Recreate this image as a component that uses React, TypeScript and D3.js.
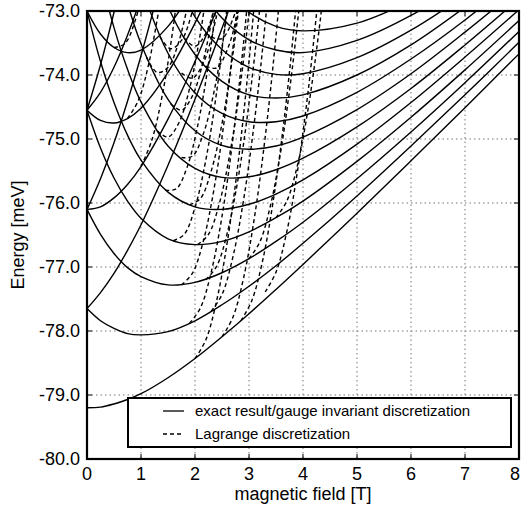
import React from "react";
import * as d3 from "d3";

// magnetic field sample positions [T]
const FIELD_T = [0, 0.25, 0.5, 0.75, 1, 1.5, 2, 2.5, 3, 3.5, 4, 5, 6, 7, 8];

// exact / gauge invariant levels [meV], read at FIELD_T
const E_N0_M0 = [-79.2, -79.19, -79.14, -79.07, -78.98, -78.73, -78.43, -78.09, -77.73, -77.35, -76.96, -76.16, -75.34, -74.51, -73.67];
const E_N0_M1 = [-77.65, -77.84, -77.96, -78.04, -78.06, -78.01, -77.84, -77.59, -77.3, -76.98, -76.63, -75.89, -75.11, -74.31, -73.49];
const E_N0_M2 = [-76.1, -76.49, -76.79, -77.01, -77.15, -77.28, -77.24, -77.09, -76.87, -76.6, -76.3, -75.62, -74.89, -74.12, -73.32];
const E_N0_M3 = [-74.55, -75.14, -75.61, -75.97, -76.24, -76.56, -76.65, -76.6, -76.45, -76.23, -75.97, -75.35, -74.66, -73.92, -73.15];
const E_N0_M4 = [-73.0, -73.79, -74.43, -74.94, -75.33, -75.83, -76.06, -76.1, -76.02, -75.86, -75.64, -75.08, -74.43, -73.72, -72.98];
const E_N0_M5 = [-71.45, -72.44, -73.26, -73.91, -74.42, -75.11, -75.46, -75.6, -75.59, -75.48, -75.3, -74.81, -74.21, -73.53, -72.81];
const E_N0_M6 = [-69.9, -71.09, -72.08, -72.88, -73.51, -74.38, -74.87, -75.1, -75.16, -75.11, -74.97, -74.54, -73.98, -73.33, -72.64];
const E_N0_M7 = [-68.35, -69.74, -70.9, -71.85, -72.6, -73.66, -74.28, -74.6, -74.73, -74.73, -74.64, -74.27, -73.75, -73.14, -72.46];
const E_N0_M8 = [-66.8, -68.39, -69.72, -70.81, -71.69, -72.93, -73.68, -74.1, -74.31, -74.36, -74.31, -74.0, -73.53, -72.94, -72.29];
const E_N0_M9 = [-65.25, -67.04, -68.55, -69.78, -70.78, -72.21, -73.09, -73.6, -73.88, -73.99, -73.98, -73.73, -73.3, -72.75, -72.12];
const E_N0_M10 = [-63.7, -65.7, -67.37, -68.75, -69.87, -71.49, -72.5, -73.11, -73.45, -73.61, -73.65, -73.46, -73.07, -72.55, -71.95];
const E_N0_M11 = [-62.15, -64.35, -66.19, -67.72, -68.96, -70.76, -71.9, -72.61, -73.02, -73.24, -73.31, -73.19, -72.84, -72.36, -71.78];
const E_N0_MM1 = [-77.65, -77.4, -77.1, -76.74, -76.34, -75.41, -74.38, -73.27, -72.12];
const E_N0_MM2 = [-76.1, -75.62, -75.06, -74.41, -73.7, -72.1, -70.33];
const E_N0_MM3 = [-74.55, -73.84, -73.02, -72.09, -71.06];
const E_N0_MM4 = [-73.0, -72.06, -70.98];
const E_N1_M0 = [-76.1, -76.06, -75.92, -75.71, -75.43, -74.69, -73.79, -72.77, -71.69];
const E_N1_M1 = [-74.55, -74.71, -74.75, -74.68, -74.52, -73.96, -73.19, -72.28, -71.26];
const E_N1_M2 = [-73.0, -73.36, -73.57, -73.65, -73.61, -73.24, -72.6, -71.78];
const E_N1_MM1 = [-74.55, -74.27, -73.88, -73.38, -72.79, -71.37];
const E_N1_MM2 = [-73.0, -72.49, -71.84];

const EXACT_LEVELS = [
  E_N0_M0, E_N0_M1, E_N0_M2, E_N0_M3, E_N0_M4, E_N0_M5, E_N0_M6, E_N0_M7, E_N0_M8,
  E_N0_M9, E_N0_M10, E_N0_M11, E_N0_MM1, E_N0_MM2, E_N0_MM3, E_N0_MM4,
  E_N1_M0, E_N1_M1, E_N1_M2, E_N1_MM1, E_N1_MM2,
];

// Lagrange discretization branches: [B, E]
const LAG_1 = [[2.0, -78.43], [2.2, -78.14], [2.4, -77.53], [2.6, -76.6], [2.8, -75.36], [3.0, -73.79], [3.2, -71.9]];
const LAG_2 = [[2.5, -78.09], [2.7, -77.79], [2.9, -77.17], [3.1, -76.23], [3.3, -74.97], [3.5, -73.39], [3.7, -71.49]];
const LAG_3 = [[2.85, -77.84], [3.05, -77.53], [3.25, -76.91], [3.45, -75.96], [3.65, -74.7], [3.85, -73.11], [4.05, -71.2]];
const LAG_4 = [[1.9, -77.88], [2.1, -77.64], [2.3, -77.08], [2.5, -76.21], [2.7, -75.01], [2.9, -73.49], [3.1, -71.65]];
const LAG_5 = [[2.3, -77.69], [2.5, -77.43], [2.7, -76.85], [2.9, -75.95], [3.1, -74.73], [3.3, -73.19], [3.5, -71.33]];
const LAG_6 = [[1.75, -77.28], [1.95, -77.1], [2.15, -76.61], [2.35, -75.79], [2.55, -74.66], [2.75, -73.2], [2.95, -71.42]];
const LAG_7 = [[2.2, -77.2], [2.4, -76.99], [2.6, -76.46], [2.8, -75.61], [3.0, -74.44], [3.2, -72.95], [3.4, -71.14]];
const LAG_8 = [[1.6, -76.59], [1.8, -76.49], [2.0, -76.07], [2.2, -75.33], [2.4, -74.27], [2.6, -72.89]];
const LAG_9 = [[2.05, -76.65], [2.25, -76.49], [2.45, -76.01], [2.65, -75.21], [2.85, -74.09], [3.05, -72.65]];
const LAG_10 = [[1.45, -75.8], [1.65, -75.78], [1.85, -75.45], [2.05, -74.79], [2.25, -73.82], [2.45, -72.52]];
const LAG_11 = [[1.9, -76.03], [2.1, -75.93], [2.3, -75.5], [2.5, -74.76], [2.7, -73.69], [2.9, -72.31]];
const LAG_12 = [[1.3, -74.87], [1.5, -74.97], [1.7, -74.75], [1.9, -74.21], [2.1, -73.35], [2.3, -72.17]];
const LAG_13 = [[1.75, -75.29], [1.95, -75.27], [2.15, -74.93], [2.35, -74.27], [2.55, -73.29], [2.75, -71.99]];
const LAG_14 = [[1.1, -73.72], [1.3, -73.96], [1.5, -73.88], [1.7, -73.48], [1.9, -72.76]];
const LAG_15 = [[1.55, -74.45], [1.75, -74.55], [1.95, -74.33], [2.15, -73.79], [2.35, -72.93], [2.55, -71.75]];
const LAG_16 = [[1.35, -73.4], [1.55, -73.59], [1.75, -73.46], [1.95, -73.01], [2.15, -72.25]];
const LAG_17 = [[1.75, -73.97], [1.95, -74.05], [2.15, -73.82], [2.35, -73.26], [2.55, -72.39]];
const LAG_18 = [[1.8, -73.42], [2.0, -73.55], [2.2, -73.35], [2.4, -72.84]];
const LAG_19 = [[2.2, -73.86], [2.4, -73.89], [2.6, -73.6], [2.8, -72.99], [3.0, -72.06]];
const LAG_20 = [[2.3, -73.41], [2.5, -73.43], [2.7, -73.13], [2.9, -72.51]];
const LAG_21 = [[0.75, -74.68], [0.95, -74.4], [1.15, -73.8], [1.35, -72.88]];
const LAG_22 = [[0.5, -73.57], [0.7, -73.51], [0.9, -73.13], [1.1, -72.45]];
const LAG_23 = [[1.0, -75.43], [1.2, -75.02], [1.4, -74.29], [1.6, -73.23], [1.8, -71.85]];
const LAG_24 = [[3.3, -77.39], [3.5, -77.08], [3.7, -76.45], [3.9, -75.49], [4.1, -74.22], [4.3, -72.63]];
const LAG_25 = [[3.0, -76.87], [3.2, -76.61], [3.4, -76.03], [3.6, -75.13], [3.8, -73.91], [4.0, -72.37]];
const LAG_26 = [[3.5, -76.23], [3.7, -75.97], [3.9, -75.4], [4.1, -74.5], [4.3, -73.28], [4.5, -71.75]];

const LAGRANGE_LEVELS = [
  LAG_1, LAG_2, LAG_3, LAG_4, LAG_5, LAG_6, LAG_7, LAG_8, LAG_9, LAG_10, LAG_11, LAG_12, LAG_13,
  LAG_14, LAG_15, LAG_16, LAG_17, LAG_18, LAG_19, LAG_20, LAG_21, LAG_22, LAG_23, LAG_24, LAG_25, LAG_26,
];

const X_TICKS = [0, 1, 2, 3, 4, 5, 6, 7, 8];
const Y_TICKS = [-80, -79, -78, -77, -76, -75, -74, -73];
const X_LABEL = "magnetic field [T]";
const Y_LABEL = "Energy [meV]";
const LEGEND_LABELS = ["exact result/gauge invariant discretization", "Lagrange discretization"];

const FONT = "'Liberation Sans', Arial, Helvetica, sans-serif";

export default function App() {
  const width = 521;
  const height = 509;
  const left = 87, right = 519, top = 11, bottom = 459;
  const x = d3.scaleLinear().domain([0, 8]).range([left, right]);
  const y = d3.scaleLinear().domain([-80, -73]).range([bottom, top]);
  const line = d3
    .line<number[]>()
    .x((d) => x(d[0]))
    .y((d) => y(d[1]))
    .curve(d3.curveCatmullRom.alpha(0.5));

  const exactPaths = EXACT_LEVELS.map((vals) => line(vals.map((e, i) => [FIELD_T[i], e])) || "");
  const lagPaths = LAGRANGE_LEVELS.map((pts) => line(pts) || "");

  const tick = 5;
  const legX = 128, legY = 398, legW = 383, legH = 49;

  return (
    <svg
      width={width}
      height={height}
      style={{ position: "absolute", left: 0, top: 0, background: "#fff" }}
      fontFamily={FONT}
    >
      <defs>
        <clipPath id="plotClip">
          <rect x={left} y={top} width={right - left} height={bottom - top} />
        </clipPath>
      </defs>
      <rect x={0} y={0} width={width} height={height} fill="#fff" />
      {/* grid */}
      <g stroke="#777" strokeWidth={1} strokeDasharray="1.5,3">
        {X_TICKS.slice(1, -1).map((t) => (
          <line key={"gx" + t} x1={x(t)} x2={x(t)} y1={top} y2={bottom} />
        ))}
        {Y_TICKS.slice(1, -1).map((t) => (
          <line key={"gy" + t} x1={left} x2={right} y1={y(t)} y2={y(t)} />
        ))}
      </g>
      <g clipPath="url(#plotClip)" fill="none" stroke="#000">
        {exactPaths.map((d, i) => (
          <path key={"e" + i} d={d} strokeWidth={1.4} />
        ))}
        {lagPaths.map((d, i) => (
          <path key={"l" + i} d={d} strokeWidth={1.4} strokeDasharray="4,3" />
        ))}
      </g>
      {/* ticks */}
      <g stroke="#000" strokeWidth={1}>
        {X_TICKS.slice(1, -1).map((t) => (
          <g key={"tx" + t}>
            <line x1={x(t)} x2={x(t)} y1={bottom} y2={bottom - tick} />
            <line x1={x(t)} x2={x(t)} y1={top} y2={top + tick} />
          </g>
        ))}
        {Y_TICKS.slice(1, -1).map((t) => (
          <g key={"ty" + t}>
            <line x1={left} x2={left + tick} y1={y(t)} y2={y(t)} />
            <line x1={right} x2={right - tick} y1={y(t)} y2={y(t)} />
          </g>
        ))}
      </g>
      {/* frame */}
      <rect x={left} y={top} width={right - left} height={bottom - top} fill="none" stroke="#000" strokeWidth={2.2} />
      {/* tick labels */}
      <g fontSize={18} fill="#000">
        {X_TICKS.map((t, i) => (
          <text
            key={"lx" + t}
            x={i === X_TICKS.length - 1 ? width - 1 : x(t)}
            y={bottom + 21}
            textAnchor={i === X_TICKS.length - 1 ? "end" : "middle"}
          >
            {String(t)}
          </text>
        ))}
        {Y_TICKS.map((t) => (
          <text key={"ly" + t} x={left - 7} y={y(t)} dy="0.35em" textAnchor="end">
            {t.toFixed(1)}
          </text>
        ))}
      </g>
      <text x={(left + right) / 2} y={500} textAnchor="middle" fontSize={18}>
        {X_LABEL}
      </text>
      <text transform={`translate(24,${(top + bottom) / 2}) rotate(-90)`} textAnchor="middle" fontSize={18}>
        {Y_LABEL}
      </text>
      {/* legend */}
      <rect x={legX} y={legY} width={legW} height={legH} fill="#fff" stroke="#000" strokeWidth={2} />
      <line x1={163} x2={184} y1={legY + 13} y2={legY + 13} stroke="#000" strokeWidth={1.3} />
      <line x1={163} x2={184} y1={legY + 36} y2={legY + 36} stroke="#000" strokeWidth={1.3} strokeDasharray="4,3" />
      <text x={195} y={legY + 18} fontSize={15}>
        {LEGEND_LABELS[0]}
      </text>
      <text x={195} y={legY + 41} fontSize={15}>
        {LEGEND_LABELS[1]}
      </text>
    </svg>
  );
}
